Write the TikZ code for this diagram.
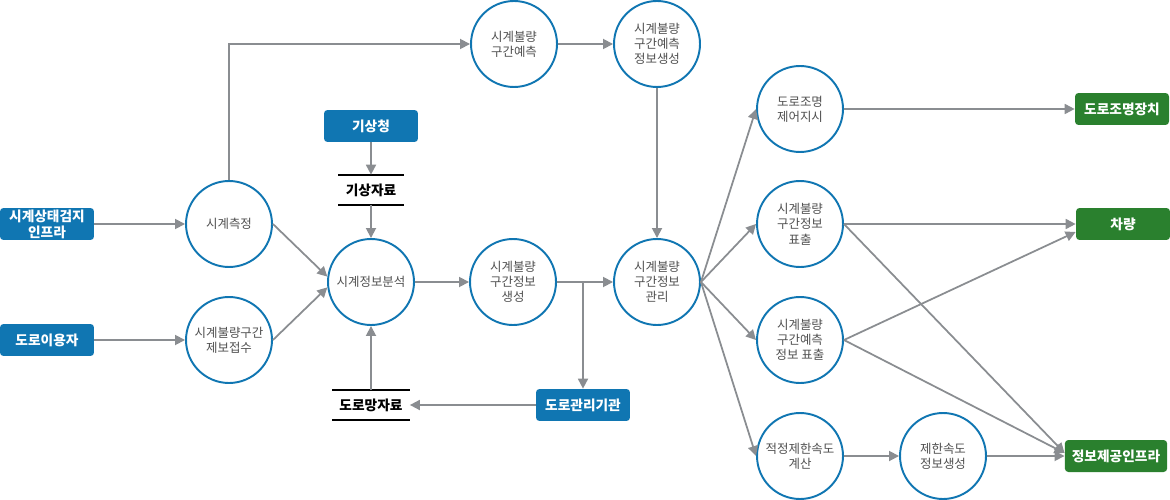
\documentclass[tikz,border=0pt]{standalone}
\usepackage{fontspec}
\setmainfont{Noto Sans CJK KR}
\usepackage{tikz}
\usetikzlibrary{arrows.meta, positioning}
\definecolor{myblue}{RGB}{16,118,178}
\definecolor{mygreen}{RGB}{42,128,46}
\definecolor{mygray}{RGB}{138,141,145}
\definecolor{mytext}{RGB}{80,80,80}
\tikzset{
  proc/.style={circle, draw=myblue, fill=white, line width=1.1pt,
    minimum size=1.72cm, inner sep=0pt, align=center,
    font=\fontsize{7.1}{8.7}\selectfont, text=mytext},
  srcbox/.style={rectangle, fill=myblue, rounded corners=2pt,
    minimum width=1.88cm, minimum height=0.64cm, inner xsep=0.14cm, inner ysep=0pt,
    align=center, text=white, font=\fontsize{7.8}{9}\selectfont\bfseries},
  sinkbox/.style={srcbox, fill=mygreen},
  store/.style={rectangle, minimum height=0.6cm, inner xsep=0.14cm, inner ysep=0pt,
    font=\fontsize{7.8}{9}\selectfont\bfseries, text=black},
  storeline/.style={line width=1.1pt, color=black},
  arrow/.style={-{Triangle[length=0.2cm,width=0.2cm]}, line width=1pt, color=mygray},
  line/.style={line width=1pt, color=mygray}
}

\begin{document}
\begin{tikzpicture}[x=0.02cm, y=-0.02cm]
  \useasboundingbox (0,0) rectangle (1170,500);
  % Sources
  \node[srcbox] (infra) at (47,224) {시계상태검지\\인프라};
  \node[srcbox] (user) at (47,340) {도로이용자};
  \node[srcbox] (kma) at (371,126) {기상청};
  \node[srcbox] (agency) at (583,405) {도로관리기관};
  % Data stores
  \node[store] (weather) at (371,190) {기상자료};
  \node[store] (roadnet) at (371,405) {도로망자료};
  \draw[storeline] (weather.north west) -- (weather.north east);
  \draw[storeline] (weather.south west) -- (weather.south east);
  \draw[storeline] (roadnet.north west) -- (roadnet.north east);
  \draw[storeline] (roadnet.south west) -- (roadnet.south east);
  % Processes
  \node[proc] (measure) at (229,224) {시계측정};
  \node[proc] (report) at (229,340) {시계불량구간\\제보접수};
  \node[proc] (analysis) at (371,282) {시계정보분석};
  \node[proc] (gen) at (513,282) {시계불량\\구간정보\\생성};
  \node[proc] (predict) at (514,44) {시계불량\\구간예측};
  \node[proc] (predgen) at (657,44) {시계불량\\구간예측\\정보생성};
  \node[proc] (manage) at (657,282) {시계불량\\구간정보\\관리};
  \node[proc] (lightcmd) at (800,109) {도로조명\\제어지시};
  \node[proc] (infodisp) at (800,224) {시계불량\\구간정보\\표출};
  \node[proc] (preddisp) at (800,340) {시계불량\\구간예측\\정보 표출};
  \node[proc] (speedcalc) at (800,456) {적정제한속도\\계산};
  \node[proc] (speedgen) at (943,456) {제한속도\\정보생성};
  % Sinks
  \node[sinkbox] (lightdev) at (1122,109) {도로조명장치};
  \node[sinkbox] (vehicle) at (1123,224) {차량};
  \node[sinkbox] (provider) at (1116,456) {정보제공인프라};
  % Flows
  \draw[arrow] (infra) -- (measure);
  \draw[arrow] (user) -- (report);
  \draw[arrow] (measure.east) -- (analysis.173);
  \draw[arrow] (report.east) -- (analysis.187);
  \draw[arrow] (measure.north) |- (predict);
  \draw[arrow] (predict) -- (predgen);
  \draw[arrow] (predgen) -- (manage);
  \draw[arrow] (kma) -- (weather);
  \draw[arrow] (weather) -- (analysis);
  \draw[arrow] (roadnet) -- (analysis);
  \draw[arrow] (agency) -- (roadnet);
  \draw[arrow] (analysis) -- (gen);
  \draw[arrow] (gen) -- (manage);
  \coordinate (branch) at (583,282);
  \draw[arrow] (branch) -- (agency);
  \draw[arrow] (manage.east) -- (lightcmd.west);
  \draw[arrow] (manage.east) -- (infodisp.west);
  \draw[arrow] (manage.east) -- (preddisp.west);
  \draw[arrow] (manage.east) -- (speedcalc.west);
  \draw[arrow] (lightcmd) -- (lightdev);
  \draw[arrow] (infodisp) -- (vehicle);
  \draw[arrow] (infodisp.east) -- ([yshift=0.06cm]provider.west);
  \draw[arrow] (preddisp.east) -- ([yshift=-0.16cm]vehicle.west);
  \draw[arrow] (preddisp.east) -- ([yshift=0.06cm]provider.west);
  \draw[arrow] (speedcalc) -- (speedgen);
  \draw[arrow] (speedgen) -- (provider);
\end{tikzpicture}
\end{document}
